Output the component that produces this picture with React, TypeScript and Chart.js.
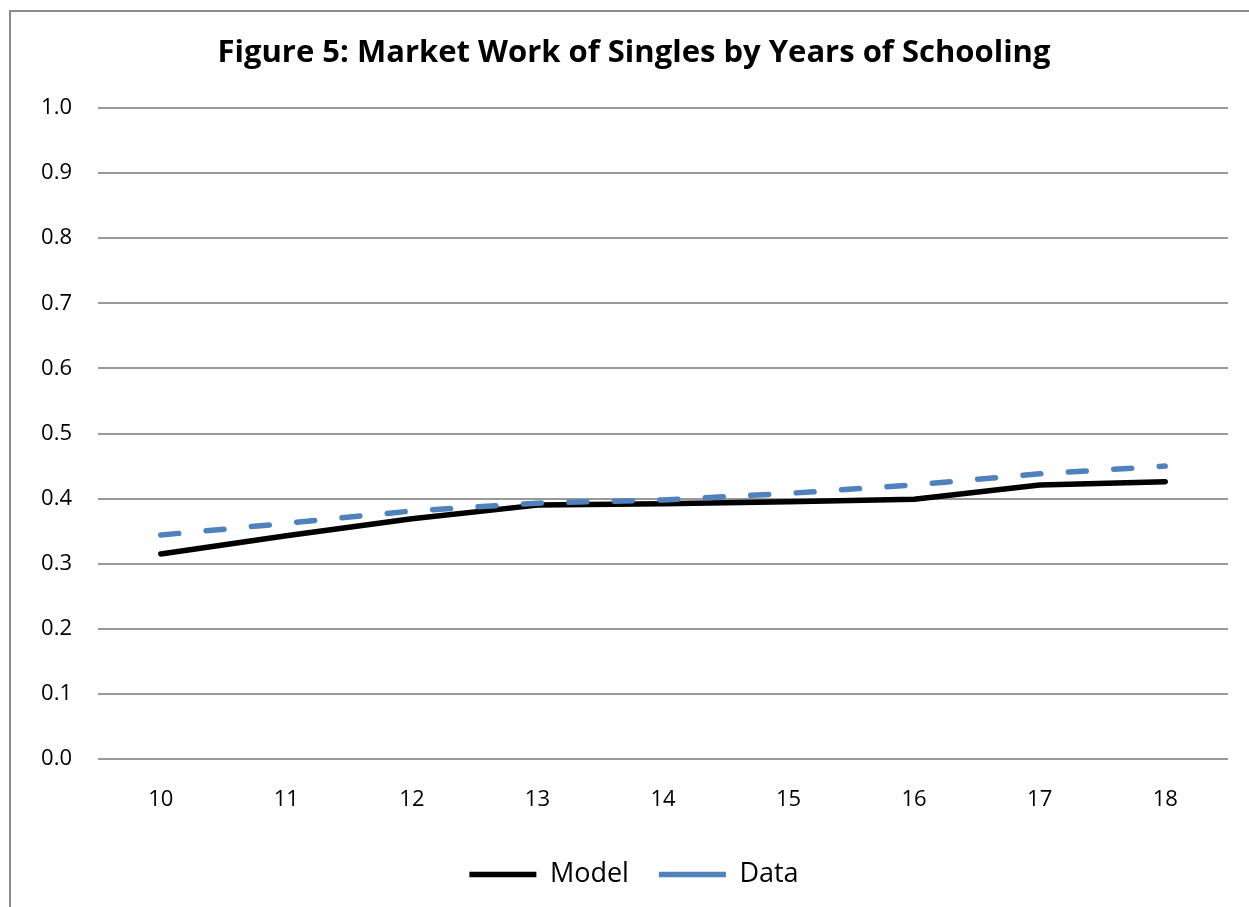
import React, { useEffect, useRef } from "react";
import { Chart, registerables } from "chart.js";

Chart.register(...registerables);

// Years of schooling on the x axis
const years = ["10", "11", "12", "13", "14", "15", "16", "17", "18"];

// Share of time in market work
const modelValues = [0.315, 0.343, 0.369, 0.39, 0.392, 0.395, 0.399, 0.421, 0.426];
const dataValues = [0.344, 0.362, 0.381, 0.393, 0.398, 0.408, 0.421, 0.438, 0.45];

const seriesNames = ["Model", "Data"];
const titleText = "Figure 5: Market Work of Singles by Years of Schooling";

const FONT = "'Open Sans', 'DejaVu Sans', sans-serif";
const BLUE = "#4F81BD";
const GRID = "#999999";
const LINE_WIDTH = 5.5;
const LEGEND_DASH = [20, 26];

export default function App() {
  const canvasRef = useRef<HTMLCanvasElement | null>(null);

  useEffect(() => {
    const canvas = canvasRef.current;
    if (!canvas) return;
    Chart.defaults.font.family = FONT;
    Chart.defaults.color = "#000";

    const chart = new Chart(canvas, {
      type: "line",
      data: {
        labels: years,
        datasets: [
          {
            label: seriesNames[0],
            data: modelValues,
            borderColor: "#000000",
            backgroundColor: "#000000",
            borderWidth: LINE_WIDTH,
            borderCapStyle: "round",
            borderJoinStyle: "round",
            pointRadius: 0,
            pointHoverRadius: 0,
            tension: 0,
            order: 1,
          },
          {
            label: seriesNames[1],
            data: dataValues,
            borderColor: BLUE,
            backgroundColor: BLUE,
            borderWidth: LINE_WIDTH,
            borderDash: [18, 27.5],
            borderCapStyle: "round",
            borderJoinStyle: "round",
            pointRadius: 0,
            pointHoverRadius: 0,
            tension: 0,
            order: 0,
          },
        ],
      },
      options: {
        responsive: false,
        animation: false,
        events: [],
        layout: { padding: { left: 40, right: 21, top: 0, bottom: 2 } },
        plugins: {
          tooltip: { enabled: false },
          title: {
            display: true,
            text: titleText,
            color: "#000",
            font: { family: FONT, size: 31, weight: "bold", lineHeight: 1.2 },
            padding: { top: 35, bottom: 35.8 },
          },
          legend: {
            display: true,
            position: "bottom",
            labels: {
              usePointStyle: true,
              pointStyle: "line",
              pointStyleWidth: 67,
              boxHeight: 27,
              padding: 30,
              color: "#000",
              font: { family: FONT, size: 27 },
              sort: (a: any, b: any) => a.datasetIndex - b.datasetIndex,
              generateLabels: (c: any) =>
                Chart.defaults.plugins.legend.labels
                  .generateLabels(c)
                  .map((item: any) => ({
                    ...item,
                    lineDash: item.lineDash && item.lineDash.length ? LEGEND_DASH : [],
                  })),
            },
          },
        },
        scales: {
          x: {
            type: "category",
            offset: true,
            grid: { display: false, drawTicks: false },
            border: { display: false },
            ticks: {
              padding: 28,
              color: "#000",
              font: { family: FONT, size: 22 },
              maxRotation: 0,
            },
            afterFit: (scale: any) => {
              scale.height = 72;
            },
          },
          y: {
            min: 0,
            max: 1,
            grid: { color: GRID, lineWidth: 2, drawTicks: false },
            border: { display: false },
            ticks: {
              stepSize: 0.1,
              padding: 26,
              color: "#000",
              font: { family: FONT, size: 22 },
              callback: (v: any) => Number(v).toFixed(1),
            },
            afterFit: (scale: any) => {
              scale.width = 58;
            },
          },
        },
      },
    });

    return () => chart.destroy();
  }, []);

  return (
    <div
      style={{
        position: "fixed",
        left: 0,
        top: 0,
        width: 1249,
        height: 907,
        overflow: "hidden",
        background: "#ffffff",
      }}
    >
      <div
        style={{
          position: "absolute",
          left: 9,
          top: 10,
          width: 1300,
          height: 1000,
          border: "2px solid #8c8c8c",
          boxSizing: "border-box",
        }}
      />
      <canvas
        ref={canvasRef}
        width={1249}
        height={900}
        style={{ position: "absolute", left: 0, top: 0, width: 1249, height: 900 }}
      />
    </div>
  );
}
